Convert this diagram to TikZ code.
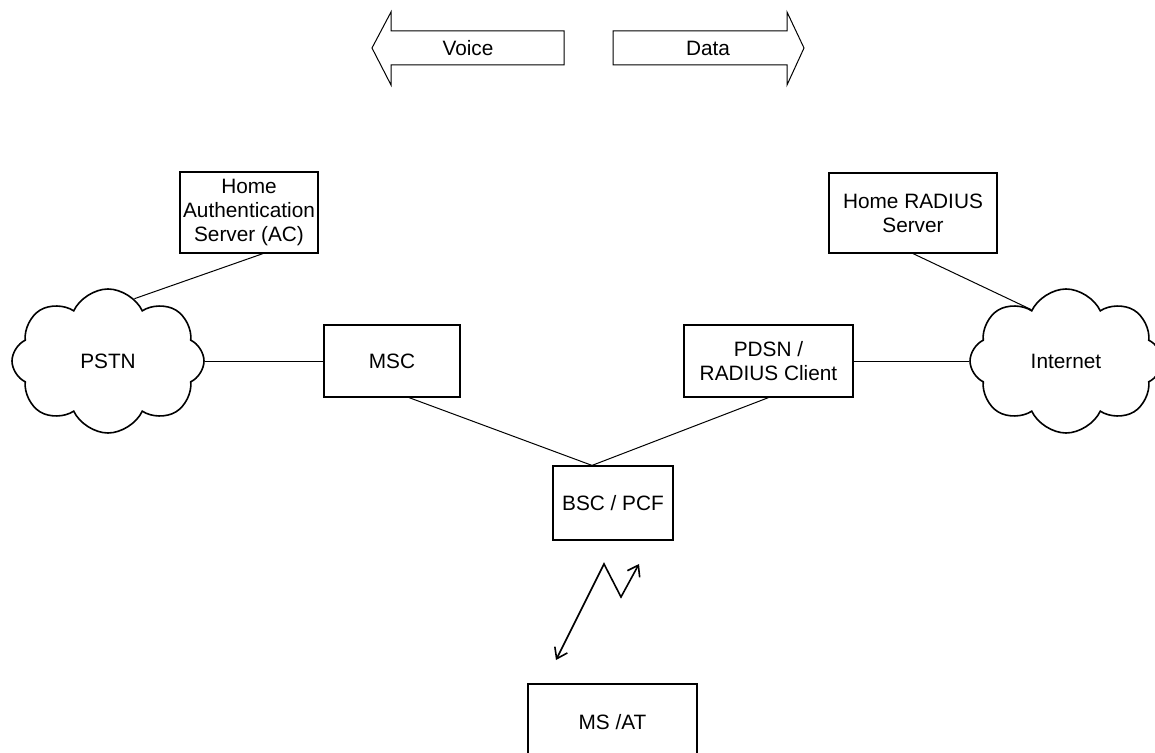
\documentclass[tikz,border=0pt]{standalone}
\usepackage{fontspec}
\setmainfont{Liberation Sans}
\usetikzlibrary{arrows.meta, positioning, calc, shapes.symbols}

\begin{document}
\begin{tikzpicture}[x=0.5pt, y=-0.5pt,
    every node/.style={font=\fontsize{10.4}{12}\selectfont, align=center},
    netbox/.style={draw, line width=0.6pt, inner sep=0pt},
    netcloud/.style={cloud, cloud puffs=8, cloud puff arc=130, draw, line width=0.8pt,
        minimum width=96pt, minimum height=72pt, inner sep=0pt},
    link/.style={line width=0.5pt},
    flow/.style={draw, line width=0.5pt}]
    \useasboundingbox (0,0) rectangle (1155,753);
    \clip (0,0) rectangle (1155,753);

    % voice / data
    \node (voice) at (468,48) {Voice};
    \node (data) at (708,48) {Data};
    \draw[flow] (372,48) -- (391,12) -- (391,31) -- (564,31) -- (564,65) -- (391,65) -- (391,85) -- cycle;
    \draw[flow] (804,48) -- (787,12) -- (787,31) -- (613,31) -- (613,65) -- (787,65) -- (787,85) -- cycle;

    % network elements
    \node[netbox, minimum width=69pt, minimum height=40.5pt] (ac) at (249,212.5) {Home\\Authentication\\Server (AC)};
    \node[netbox, minimum width=84pt, minimum height=40pt] (radius) at (913,213) {Home RADIUS\\Server};
    \node[netcloud] (pstn) at (108,361) {PSTN};
    \node[netcloud] (inet) at (1066,361) {Internet};
    \node[netbox, minimum width=68pt, minimum height=36pt] (msc) at (392,361) {MSC};
    \node[netbox, minimum width=84.5pt, minimum height=36pt] (pdsn) at (768.5,361) {PDSN /\\RADIUS Client};
    \node[netbox, minimum width=60pt, minimum height=37pt] (bsc) at (613,503) {BSC / PCF};
    \node[netbox, minimum width=84.5pt, minimum height=38pt] (ms) at (612.5,722) {MS /AT};

    % links
    \draw[link] ([xshift=7pt]ac.south) -- (pstn.67);
    \draw[link] (radius.south) -- (inet.124);
    \draw[link] (pstn.east) -- (msc.west);
    \draw[link] (pdsn.east) -- (inet.west);
    \draw[link] ([xshift=8.5pt]msc.south) -- ([xshift=-10.5pt]bsc.north);
    \draw[link] (pdsn.south) -- ([xshift=-10.5pt]bsc.north);

    % radio link
    \coordinate (rlow) at (556,660);
    \coordinate (rpeak) at (604,564);
    \coordinate (rdip) at (621,597);
    \coordinate (rtop) at (639,564);
    \draw[line width=0.8pt, {Straight Barb[length=5pt,width=7pt]}-{Straight Barb[length=5pt,width=7pt]}]
        (rlow) -- (rpeak) -- (rdip) -- (rtop);
\end{tikzpicture}
\end{document}
